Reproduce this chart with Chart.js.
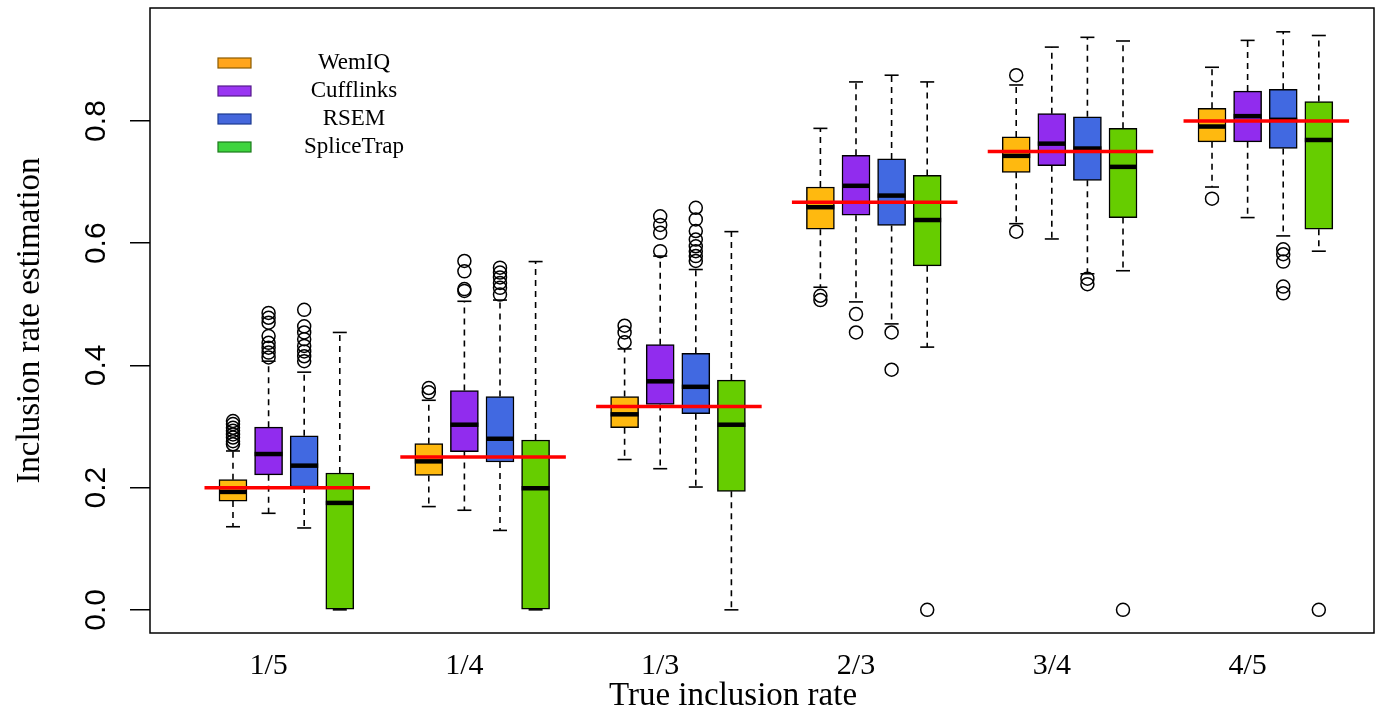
<!DOCTYPE html>
<html>
<head>
<meta charset="utf-8">
<title>Inclusion rate estimation</title>
<script src="https://cdn.jsdelivr.net/npm/chart.js@4.4.1/dist/chart.umd.min.js"></script>
<style>
  html, body { margin: 0; padding: 0; background: #fff; }
  #wrap { width: 1384px; height: 713px; }
</style>
</head>
<body>
<div id="wrap"><canvas id="boxChart" width="1384" height="713"></canvas></div>
<script>
// categories / tick labels
const groupLabels = ['1/5', '1/4', '1/3', '2/3', '3/4', '4/5'];
const trueRates = [0.2, 0.25, 0.333, 0.667, 0.75, 0.8];
const yTicks = [0.0, 0.2, 0.4, 0.6, 0.8];
const methods = ['WemIQ', 'Cufflinks', 'RSEM', 'SpliceTrap'];

// box statistics per method, one value per group
const wemiqLow  = [0.136, 0.169, 0.246, 0.528, 0.632, 0.692];
const wemiqQ1   = [0.178, 0.220, 0.298, 0.623, 0.716, 0.766];
const wemiqMed  = [0.193, 0.243, 0.320, 0.659, 0.743, 0.791];
const wemiqQ3   = [0.213, 0.272, 0.349, 0.692, 0.774, 0.821];
const wemiqHigh = [0.260, 0.343, 0.427, 0.788, 0.859, 0.888];
const wemiqOut  = [[0.271, 0.276, 0.282, 0.287, 0.293, 0.298, 0.304, 0.309], [0.356, 0.363], [0.438, 0.454, 0.465], [0.507, 0.514], [0.619, 0.875], [0.673]];

const cuffLow  = [0.158, 0.163, 0.231, 0.504, 0.607, 0.642];
const cuffQ1   = [0.221, 0.259, 0.336, 0.646, 0.727, 0.766];
const cuffMed  = [0.255, 0.303, 0.374, 0.694, 0.763, 0.808];
const cuffQ3   = [0.299, 0.359, 0.434, 0.744, 0.812, 0.849];
const cuffHigh = [0.407, 0.505, 0.579, 0.864, 0.921, 0.932];
const cuffOut  = [[0.413, 0.421, 0.429, 0.437, 0.448, 0.470, 0.478, 0.486], [0.522, 0.525, 0.554, 0.571], [0.587, 0.617, 0.630, 0.644], [0.454, 0.484], [], []];

const rsemLow  = [0.134, 0.130, 0.201, 0.468, 0.550, 0.612];
const rsemQ1   = [0.201, 0.242, 0.321, 0.629, 0.703, 0.755];
const rsemMed  = [0.236, 0.280, 0.365, 0.678, 0.755, 0.802];
const rsemQ3   = [0.285, 0.349, 0.420, 0.738, 0.807, 0.852];
const rsemHigh = [0.389, 0.507, 0.557, 0.875, 0.937, 0.946];
const rsemOut  = [[0.407, 0.415, 0.423, 0.432, 0.443, 0.454, 0.464, 0.491], [0.516, 0.527, 0.535, 0.544, 0.552, 0.560], [0.571, 0.579, 0.587, 0.595, 0.606, 0.620, 0.639, 0.658], [0.393, 0.454], [0.533, 0.542], [0.518, 0.529, 0.570, 0.582, 0.590]];

const spliceLow  = [0.000, 0.000, 0.000, 0.430, 0.555, 0.587];
const spliceQ1   = [0.000, 0.000, 0.194, 0.563, 0.642, 0.623];
const spliceMed  = [0.175, 0.199, 0.303, 0.638, 0.725, 0.769];
const spliceQ3   = [0.224, 0.278, 0.376, 0.711, 0.788, 0.832];
const spliceHigh = [0.454, 0.570, 0.619, 0.864, 0.931, 0.940];
const spliceOut  = [[], [], [], [0.0], [0.0], [0.0]];

const stats = [
  { low: wemiqLow, q1: wemiqQ1, med: wemiqMed, q3: wemiqQ3, high: wemiqHigh, out: wemiqOut },
  { low: cuffLow, q1: cuffQ1, med: cuffMed, q3: cuffQ3, high: cuffHigh, out: cuffOut },
  { low: rsemLow, q1: rsemQ1, med: rsemMed, q3: rsemQ3, high: rsemHigh, out: rsemOut },
  { low: spliceLow, q1: spliceQ1, med: spliceMed, q3: spliceQ3, high: spliceHigh, out: spliceOut },
];

const boxColors = ['#FFB90F', '#912CEE', '#4169E1', '#66CD00'];
const keyFills = ['#FFA51C', '#9A36F2', '#4567DC', '#3ED43E'];
const keyBorders = ['#8B5A00', '#551A8B', '#1C3A8F', '#1B7A1B'];

const SERIF = '"Liberation Serif", "Times New Roman", serif';
const SANS = '"Liberation Sans", Arial, sans-serif';

// x position of box i in group g (boxes 1 unit apart, groups 5.5 apart)
const boxPos = (g, i) => 1 + 5.5 * g + i;
const labelPos = groupLabels.map((_, g) => 2 + 5.5 * g);

const datasets = [];

// whiskers (dashed), drawn under the boxes
const whiskerData = [];
stats.forEach((s, i) => {
  groupLabels.forEach((_, g) => {
    const x = boxPos(g, i);
    whiskerData.push({ x, y: s.q3[g] }, { x, y: s.high[g] }, { x, y: null });
    whiskerData.push({ x, y: s.q1[g] }, { x, y: s.low[g] }, { x, y: null });
  });
});
datasets.push({
  type: 'line', data: whiskerData, borderColor: '#000', borderWidth: 1.6,
  borderDash: [6, 5], pointRadius: 0, spanGaps: false, order: 6,
});

// whisker caps
const capData = [];
stats.forEach((s, i) => groupLabels.forEach((_, g) => {
  capData.push({ x: boxPos(g, i), y: s.low[g] }, { x: boxPos(g, i), y: s.high[g] });
}));
datasets.push({
  type: 'scatter', data: capData, pointStyle: 'line', pointRadius: 7,
  borderColor: '#000', borderWidth: 1.6, order: 5,
});

// boxes as floating bars
stats.forEach((s, i) => {
  datasets.push({
    type: 'bar', label: methods[i],
    data: groupLabels.map((_, g) => ({ x: boxPos(g, i), y: [s.q1[g], s.q3[g]] })),
    backgroundColor: boxColors[i], borderColor: '#000', borderWidth: 1.5,
    borderSkipped: false, barThickness: 28, grouped: false, order: 4,
  });
});

// medians
const medData = [];
stats.forEach((s, i) => groupLabels.forEach((_, g) => medData.push({ x: boxPos(g, i), y: s.med[g] })));
datasets.push({
  type: 'scatter', data: medData, pointStyle: 'line', pointRadius: 14,
  borderColor: '#000', borderWidth: 4.5, order: 3,
});

// outliers
const outData = [];
stats.forEach((s, i) => groupLabels.forEach((_, g) => s.out[g].forEach(v => outData.push({ x: boxPos(g, i), y: v }))));
datasets.push({
  type: 'scatter', data: outData, pointStyle: 'circle', pointRadius: 6.5,
  backgroundColor: 'rgba(0,0,0,0)', borderColor: '#000', borderWidth: 1.5, order: 2,
});

// true rate reference segments
const refData = [];
trueRates.forEach((t, g) => {
  refData.push({ x: boxPos(g, 0) - 0.8, y: t }, { x: boxPos(g, 3) + 0.85, y: t }, { x: boxPos(g, 3) + 1, y: null });
});
datasets.push({
  type: 'line', data: refData, borderColor: '#FF0000', borderWidth: 3.5,
  pointRadius: 0, spanGaps: false, order: 1,
});

const framePlugin = {
  id: 'frame',
  afterDraw(chart) {
    const { ctx, chartArea: a } = chart;
    ctx.save();
    ctx.strokeStyle = '#000';
    ctx.lineWidth = 1.5;
    ctx.strokeRect(a.left, a.top, a.right - a.left, a.bottom - a.top);
    // x axis title, a little left of centre as in the original figure
    ctx.fillStyle = '#000';
    ctx.font = '33px ' + SERIF;
    ctx.textAlign = 'center';
    ctx.textBaseline = 'middle';
    ctx.fillText('True inclusion rate', (a.left + a.right) / 2 - 29, a.bottom + 63);
    ctx.restore();
  },
};

const keyPlugin = {
  id: 'boxKey',
  afterDraw(chart) {
    const { ctx, chartArea: a } = chart;
    ctx.save();
    ctx.font = '23px ' + SERIF;
    ctx.textAlign = 'center';
    ctx.textBaseline = 'middle';
    methods.forEach((m, i) => {
      const cy = a.top + 55 + i * 28;
      ctx.fillStyle = keyFills[i];
      ctx.fillRect(a.left + 68, cy - 5, 33, 10);
      ctx.strokeStyle = keyBorders[i];
      ctx.lineWidth = 1.2;
      ctx.strokeRect(a.left + 68, cy - 5, 33, 10);
      ctx.fillStyle = '#000';
      ctx.fillText(m, a.left + 204, cy);
    });
    ctx.restore();
  },
};

new Chart(document.getElementById('boxChart'), {
  type: 'bar',
  data: { datasets },
  plugins: [framePlugin, keyPlugin],
  options: {
    responsive: false,
    devicePixelRatio: 1,
    animation: false,
    events: [],
    layout: { autoPadding: false, padding: { top: 8, right: 10, left: 0, bottom: 0 } },
    plugins: { legend: { display: false }, tooltip: { enabled: false } },
    scales: {
      x: {
        type: 'linear', min: -1.331, max: 33.05, offset: false,
        afterFit: s => { s.height = 80; s.paddingLeft = 0; s.paddingRight = 0; },
        afterBuildTicks: s => { s.ticks = labelPos.map(v => ({ value: v })); },
        grid: { display: false, drawTicks: false, offset: false },
        border: { display: false },
        ticks: {
          autoSkip: false, maxRotation: 0, padding: 15, color: '#000',
          font: { family: SERIF, size: 30 },
          callback: (v, i) => groupLabels[i],
        },
      },
      y: {
        type: 'linear', min: -0.0379, max: 0.985,
        afterFit: s => { s.width = 150; s.paddingTop = 0; s.paddingBottom = 0; },
        afterBuildTicks: s => { s.ticks = yTicks.map(v => ({ value: v })); },
        grid: { display: true, drawOnChartArea: false, drawTicks: true, tickLength: 20, color: '#000', lineWidth: 1.5 },
        border: { display: false },
        ticks: {
          minRotation: 90, maxRotation: 90, crossAlign: 'center', padding: 12.5, color: '#000',
          font: { family: SANS, size: 30 },
          callback: v => v.toFixed(1),
        },
        title: {
          display: true, text: 'Inclusion rate estimation', color: '#000',
          font: { family: SERIF, size: 33 }, padding: { top: 11, bottom: 0 },
        },
      },
    },
  },
});
</script>
</body>
</html>
